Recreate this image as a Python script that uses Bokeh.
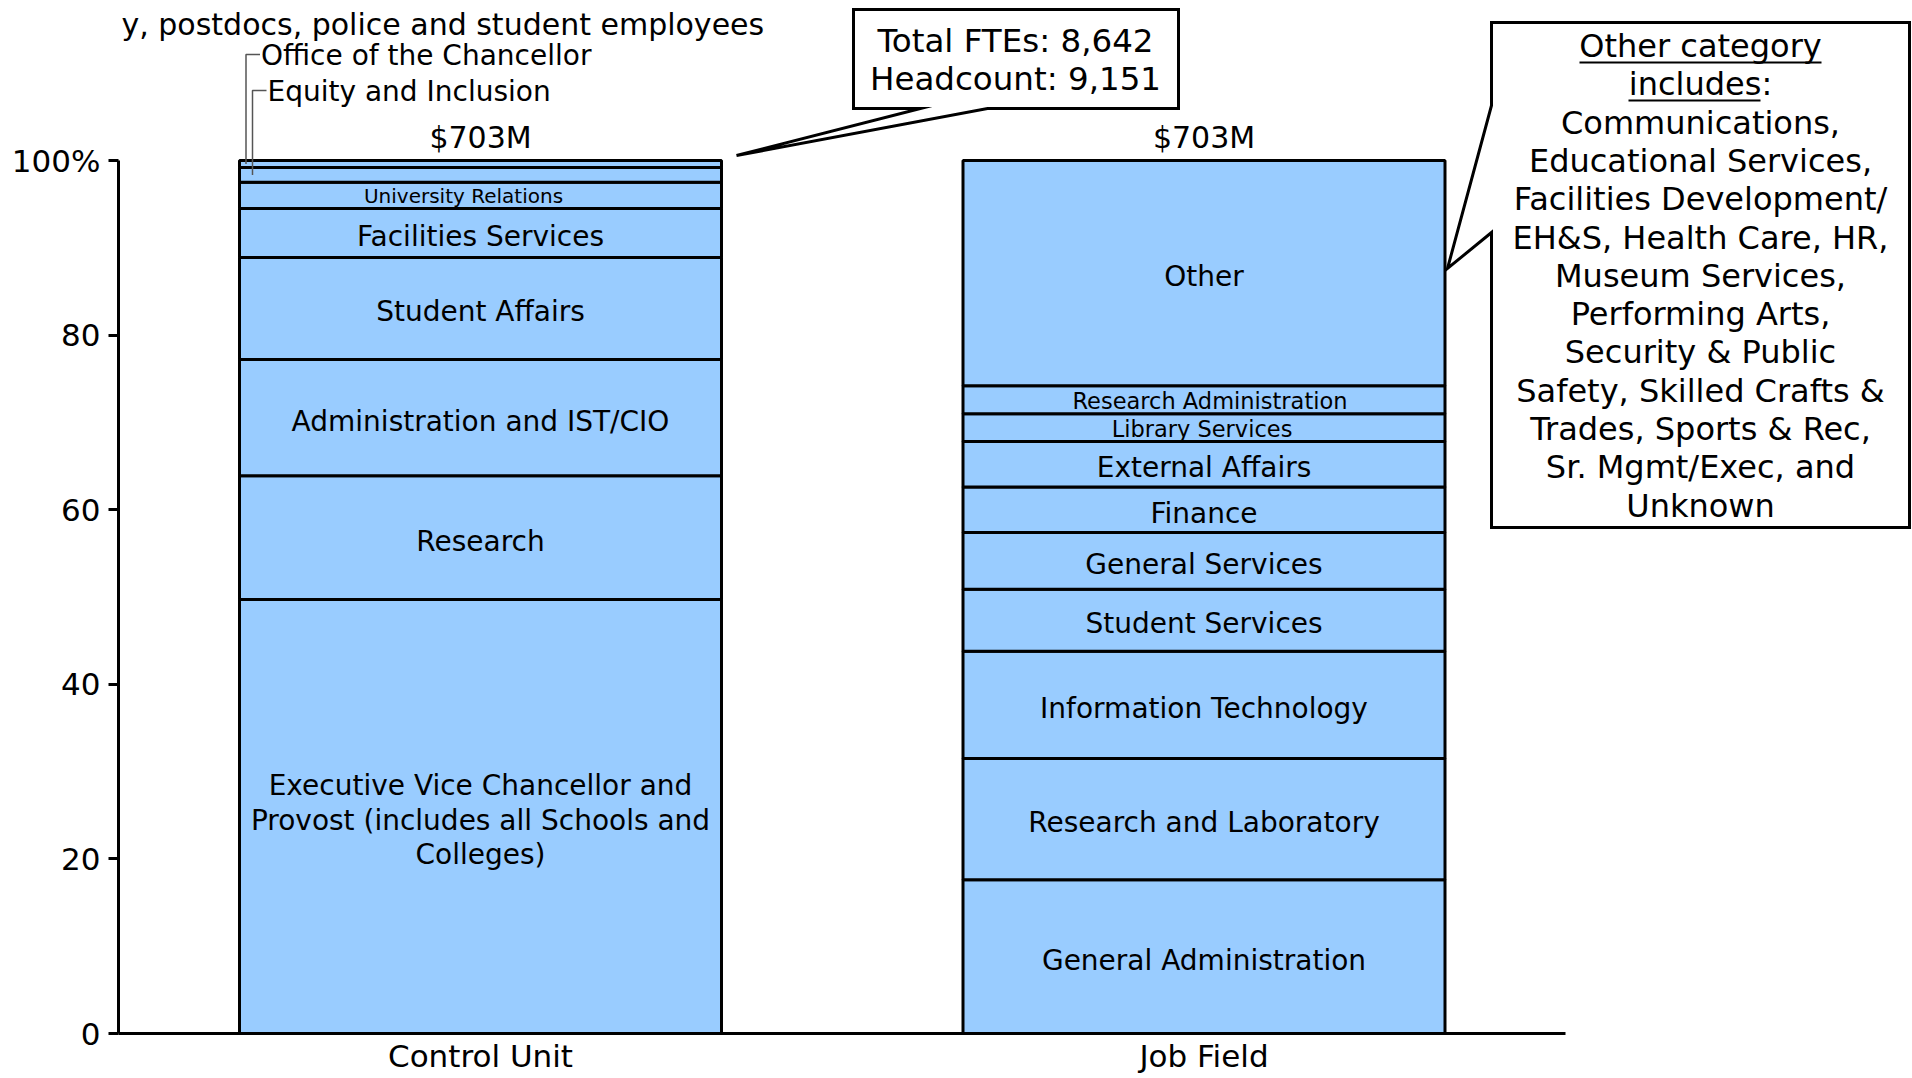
import numpy as np
from bokeh.plotting import figure
from bokeh.models import Range1d, FixedTicker, Label
from bokeh.core.properties import value
from bokeh.embed import file_html
from bokeh.resources import INLINE

# ---------------- data ----------------
categories = ["Control Unit", "Job Field"]
totals = ["$703M", "$703M"]

control_unit_labels = [
    "Executive Vice Chancellor and\nProvost (includes all Schools and\nColleges)",
    "Research",
    "Administration and IST/CIO",
    "Student Affairs",
    "Facilities Services",
    "University Relations",
    "Equity and Inclusion",
    "Office of the Chancellor",
]
control_unit_values = [49.7, 14.2, 13.3, 11.7, 5.6, 3.0, 1.7, 0.8]

job_field_labels = [
    "General Administration",
    "Research and Laboratory",
    "Information Technology",
    "Student Services",
    "General Services",
    "Finance",
    "External Affairs",
    "Library Services",
    "Research Administration",
    "Other",
]
job_field_values = [17.6, 13.9, 12.3, 7.1, 6.5, 5.2, 5.2, 3.2, 3.2, 25.8]

y_ticks = [0, 20, 40, 60, 80, 100]
y_tick_labels = ["0", "20", "40", "60", "80", "100%"]

title_text = "y, postdocs, police and student employees"
summary_lines = ["Total FTEs: 8,642", "Headcount: 9,151"]
other_lines = [
    "Other category", "includes:", "Communications,", "Educational Services,",
    "Facilities Development/", "EH&S, Health Care, HR,", "Museum Services,",
    "Performing Arts,", "Security & Public", "Safety, Skilled Crafts &",
    "Trades, Sports & Rec,", "Sr. Mgmt/Exec, and", "Unknown",
]

# ---------------- layout ----------------
W, H = 1912, 1078
LEFT, BOTTOM = 118, 45
FRAME_BOTTOM = H - BOTTOM            # canvas px of y = 0
TOP100 = 160                         # canvas px of y = 100
PX_PER_Y = (FRAME_BOTTOM - TOP100) / 100.0
X0, PX_PER_X = 480.0, 723.5          # canvas px of x = 0, px per category step
XS = (LEFT - X0) / PX_PER_X
XE = (W - X0) / PX_PER_X
YE = FRAME_BOTTOM / PX_PER_Y
BAR_W = 482 / PX_PER_X
FONT = value("DejaVu Sans")
FILL = "#99CCFF"
TXT_DY = 3.5 / PX_PER_Y              # optical nudge: centre caps in segments


def dx(px):  # canvas px -> data x
    return (px - X0) / PX_PER_X


def dy(py):  # canvas px -> data y
    return (FRAME_BOTTOM - py) / PX_PER_Y


p = figure(width=W, height=H, x_range=Range1d(XS, XE), y_range=Range1d(0, YE),
           output_backend="svg", toolbar_location=None,
           min_border_left=LEFT, min_border_right=0, min_border_top=0,
           min_border_bottom=BOTTOM)
p.xgrid.visible = False
p.ygrid.visible = False
p.outline_line_color = None
p.background_fill_color = "white"
p.border_fill_color = "white"

# y axis
ya = p.yaxis[0]
ya.ticker = FixedTicker(ticks=y_ticks)
ya.major_label_overrides = {t: l for t, l in zip(y_ticks, y_tick_labels)}
ya.bounds = (0, 100)
ya.axis_line_width = 3
ya.axis_line_color = "black"
ya.major_tick_line_width = 3
ya.major_tick_line_color = "black"
ya.major_tick_out = 10
ya.major_tick_in = 0
ya.minor_tick_out = 0
ya.minor_tick_in = 0
ya.major_label_standoff = 8
ya.major_label_text_font = "DejaVu Sans"
ya.major_label_text_font_size = "31px"
ya.major_label_text_color = "black"

# x axis
xa = p.xaxis[0]
xa.ticker = FixedTicker(ticks=[0, 1])
xa.major_label_overrides = {i: c for i, c in enumerate(categories)}
xa.bounds = (-0.5, 1.5)
xa.axis_line_width = 3
xa.axis_line_color = "black"
xa.major_tick_line_color = None
xa.major_tick_out = 0
xa.major_tick_in = 0
xa.minor_tick_out = 0
xa.minor_tick_in = 0
xa.major_label_standoff = 4
xa.major_label_text_font = "DejaVu Sans"
xa.major_label_text_font_size = "31px"
xa.major_label_text_color = "black"

small_sizes = {"University Relations": "20px", "Library Services": "22.5px",
               "Research Administration": "22.5px"}
small_offsets = {"University Relations": -17, "Library Services": -2,
                 "Research Administration": 6}
leader_labels = {"Equity and Inclusion", "Office of the Chancellor"}

for i, (labels, vals) in enumerate([(control_unit_labels, control_unit_values),
                                    (job_field_labels, job_field_values)]):
    vals = np.array(vals, dtype=float)
    tops = np.cumsum(vals)
    bottoms = tops - vals
    p.vbar(x=[i] * len(vals), bottom=bottoms, top=tops, width=BAR_W,
           fill_color=FILL, line_color="black", line_width=3)
    mids = (bottoms + tops) / 2
    big = [(m, l) for m, l in zip(mids, labels) if l not in small_sizes and l not in leader_labels]
    if big:
        p.text(x=[i] * len(big), y=[m - TXT_DY for m, _ in big], text=[l for _, l in big],
               text_font=FONT, text_font_size="28px", text_align="center",
               text_baseline="middle", text_line_height=1.05, text_color="black")
    for m, l in zip(mids, labels):
        if l in small_sizes:
            p.text(x=[i + small_offsets[l] / PX_PER_X], y=[m - 1 / PX_PER_Y], text=[l],
                   text_font=FONT, text_font_size=small_sizes[l], text_align="center",
                   text_baseline="middle", text_color="black")
        elif l in leader_labels:
            eq = l.startswith("Equity")
            lx = dx(252) if eq else dx(245.5)
            ly = dy(90) if eq else dy(54)
            p.line(x=[lx, lx, lx + 14 / PX_PER_X], y=[m, ly, ly],
                   line_color="#555555", line_width=1.5)
            p.text(x=[lx + 15 / PX_PER_X], y=[ly - 1 / PX_PER_Y], text=[l], text_font=FONT,
                   text_font_size="28px", text_align="left", text_baseline="middle",
                   text_color="black")

# totals above bars
p.text(x=[0, 1], y=[dy(137)] * 2, text=totals, text_font=FONT, text_font_size="30px",
       text_align="center", text_baseline="middle", text_color="black")

# callout 1 (summary)
c1x = [853, 1178, 1178, 987, 736, 920, 853]
c1y = [9, 9, 108, 108, 155, 108, 108]
p.patch(x=[dx(v) for v in c1x], y=[dy(v) for v in c1y], fill_color="white",
        line_color="black", line_width=3, line_join="miter")
p.text(x=[dx(1015)] * 2, y=[dy(40.5), dy(78.5)], text=summary_lines, text_font=FONT,
       text_font_size="32.5px", text_align="center", text_baseline="middle",
       text_color="black")

# callout 2 (other category)
c2x = [1491, 1909, 1909, 1491, 1491, 1447, 1491]
c2y = [22, 22, 527, 527, 232, 268, 105]
p.patch(x=[dx(v) for v in c2x], y=[dy(v) for v in c2y], fill_color="white",
        line_color="black", line_width=3, line_join="miter")
line_y = [45.5 + 38.3 * k for k in range(len(other_lines))]
p.text(x=[dx(1700)] * len(other_lines), y=[dy(v) for v in line_y], text=other_lines,
       text_font=FONT, text_font_size="32px", text_align="center", text_baseline="middle",
       text_color="black")
p.multi_line(xs=[[dx(1579), dx(1821)], [dx(1628), dx(1760)]],
             ys=[[dy(62), dy(62)], [dy(100), dy(100)]], line_color="black", line_width=2)

# subtitle fragment at the top (kept fully inside the plot area)
p.add_layout(Label(x=dx(LEFT + 3), y=dy(24), text=title_text, text_align="left",
                   text_baseline="alphabetic", text_font="DejaVu Sans",
                   text_font_size="30px", text_color="black"))

open("out.html", "w").write(file_html(p, INLINE))
